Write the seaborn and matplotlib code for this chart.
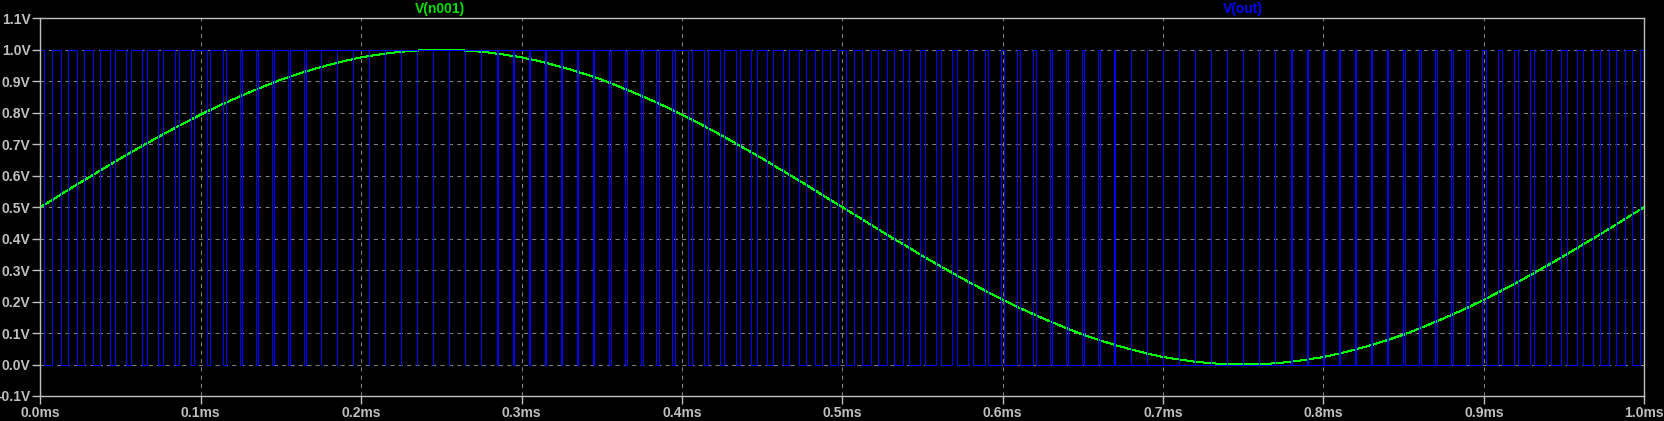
import numpy as np
import pandas as pd
import matplotlib
matplotlib.use("Agg")
import matplotlib.pyplot as plt
import seaborn as sns

# V(n001): sine every 0.01 ms (0.0 .. 1.0 ms)
t_ms = [round(0.01 * i, 2) for i in range(101)]
v_n001 = [0.500, 0.531, 0.563, 0.594, 0.624, 0.655, 0.684, 0.713, 0.741, 0.768,
          0.794, 0.819, 0.842, 0.864, 0.885, 0.905, 0.922, 0.938, 0.952, 0.965,
          0.976, 0.984, 0.991, 0.996, 0.999, 1.000, 0.999, 0.996, 0.991, 0.984,
          0.976, 0.965, 0.952, 0.938, 0.922, 0.905, 0.885, 0.864, 0.842, 0.819,
          0.794, 0.768, 0.741, 0.713, 0.684, 0.655, 0.624, 0.594, 0.563, 0.531,
          0.500, 0.469, 0.437, 0.406, 0.376, 0.345, 0.316, 0.287, 0.259, 0.232,
          0.206, 0.181, 0.158, 0.136, 0.115, 0.095, 0.078, 0.062, 0.048, 0.035,
          0.024, 0.016, 0.009, 0.004, 0.001, 0.000, 0.001, 0.004, 0.009, 0.016,
          0.024, 0.035, 0.048, 0.062, 0.078, 0.095, 0.115, 0.136, 0.158, 0.181,
          0.206, 0.232, 0.259, 0.287, 0.316, 0.345, 0.376, 0.406, 0.437, 0.469,
          0.500]

# V(out): PWM, one pulse per 10 us period, high level 1 V, low level 0 V
pwm_period = 0.01
v_high = 1.0
v_low = 0.0

x_ticks = [0.0, 0.1, 0.2, 0.3, 0.4, 0.5, 0.6, 0.7, 0.8, 0.9, 1.0]
x_labels = ["0.0ms", "0.1ms", "0.2ms", "0.3ms", "0.4ms", "0.5ms",
            "0.6ms", "0.7ms", "0.8ms", "0.9ms", "1.0ms"]
y_ticks = [-0.1, 0.0, 0.1, 0.2, 0.3, 0.4, 0.5, 0.6, 0.7, 0.8, 0.9, 1.0, 1.1]
y_labels = ["-0.1V", "0.0V", "0.1V", "0.2V", "0.3V", "0.4V", "0.5V",
            "0.6V", "0.7V", "0.8V", "0.9V", "1.0V", "1.1V"]

# duty of each period = mean of the sine over that period
v = np.array(v_n001)
duty = (v[:-1] + v[1:]) / 2

# center aligned pulses: high at both ends of the period, low in the middle
px, py = [], []
for k, d in enumerate(duty):
    t0 = t_ms[k]
    t1 = t0 + pwm_period
    half = d * pwm_period / 2
    px += [t0, t0 + half, t0 + half, t1 - half, t1 - half, t1]
    py += [v_high, v_high, v_low, v_low, v_high, v_high]

sine_df = pd.DataFrame({"t": t_ms, "v": v_n001})
pwm_df = pd.DataFrame({"t": px, "v": py})

sns.set_theme(style="ticks")
plt.rcParams["font.family"] = ["Liberation Sans", "DejaVu Sans"]

fg = "#c0c0c0"
fig = plt.figure(figsize=(16.64, 4.21), dpi=100, facecolor="black")
ax = fig.add_axes([0.02422, 0.0594, 0.96394, 0.8971], facecolor="black")

sns.lineplot(data=sine_df, x="t", y="v", ax=ax, color="#00ff00", lw=0.72,
             sort=False, estimator=None, antialiased=False)
sns.lineplot(data=pwm_df, x="t", y="v", ax=ax, color="#0000ff", lw=0.72,
             sort=False, estimator=None, antialiased=False)

ax.set_xlim(0, 1.0)
ax.set_ylim(-0.1, 1.1)
ax.set_xticks(x_ticks)
ax.set_xticklabels(x_labels)
ax.set_yticks(y_ticks)
ax.set_yticklabels(y_labels)
ax.set_xlabel("")
ax.set_ylabel("")
ax.grid(True, color="#808080", lw=0.75, linestyle=(0, (4, 4)))
ax.set_axisbelow(True)
for s in ax.spines.values():
    s.set_color(fg)
    s.set_linewidth(1.0)
ax.tick_params(colors=fg, labelsize=10, length=5.5, width=1.0, pad=1.5)
for lab in ax.get_xticklabels() + ax.get_yticklabels():
    lab.set_fontweight("bold")

fig.text(0.2644, 0.9786, "V(n001)", color="#00e000", fontsize=10,
         fontweight="bold", ha="center", va="center")
fig.text(0.747, 0.9786, "V(out)", color="#0000ff", fontsize=10,
         fontweight="bold", ha="center", va="center")

fig.savefig("out.png", dpi=100, facecolor="black")
